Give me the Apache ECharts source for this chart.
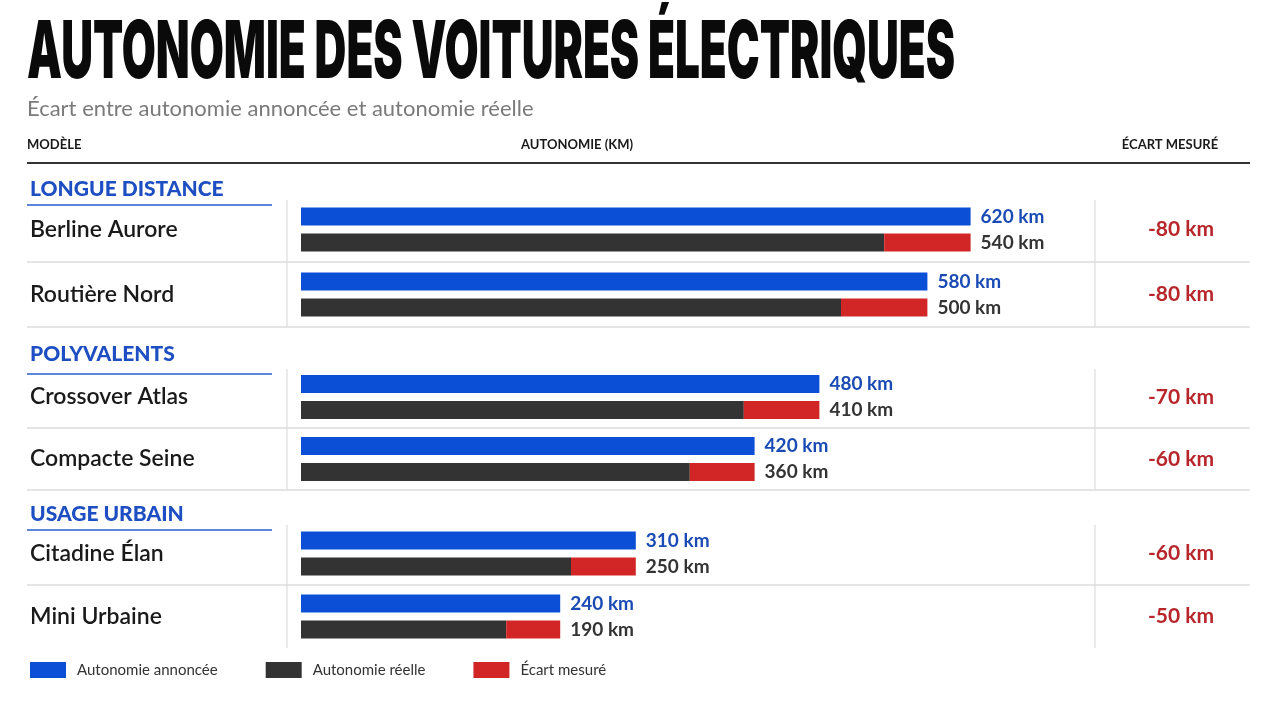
<!DOCTYPE html>
<html>
<head>
<meta charset="utf-8">
<title>Autonomie des voitures électriques</title>
<script src="https://cdn.jsdelivr.net/npm/echarts@6/dist/echarts.min.js"></script>
<style>
  html, body { margin: 0; padding: 0; background: #ffffff; }
  #chart { width: 1280px; height: 702px; }
</style>
</head>
<body>
<div id="chart"></div>
<script>
// données
var groupes = ['LONGUE DISTANCE', 'POLYVALENTS', 'USAGE URBAIN'];
var modeles = [
  ['Berline Aurore', 'Routière Nord'],
  ['Crossover Atlas', 'Compacte Seine'],
  ['Citadine Élan', 'Mini Urbaine']
];
var annoncee = [[620, 580], [480, 420], [310, 240]];
var reelle = [[540, 500], [410, 360], [250, 190]];

var BLEU = '#0b4fd6', NOIR = '#333333', ROUGE = '#d22626';
var FONT = 'Lato, "Noto Sans", sans-serif';

// mise en page des 3 blocs
var gridTops = [197, 366, 522];
var gridHeights = [130, 124, 126];
var headerY = [189, 354, 514];
var gridLeft = 301, gridWidth = 756;

var myChart = echarts.init(document.getElementById('chart'));

// largeur du titre (police grasse compressée)
var titre = 'AUTONOMIE DES VOITURES ÉLECTRIQUES';
var titreFont = '900 80px Inter';
var ctx = document.createElement('canvas').getContext('2d');
ctx.font = titreFont;
var titreScale = 928 / ctx.measureText(titre).width;

var grids = [], xAxes = [], yAxes = [], series = [], graphics = [];

graphics.push({
  type: 'text', x: 27, y: 54, scaleX: titreScale,
  style: { text: titre, font: titreFont, fill: '#0a0a0a', verticalAlign: 'middle' }
});
graphics.push({
  type: 'text', x: 27, y: 109,
  style: { text: 'Écart entre autonomie annoncée et autonomie réelle', font: '22px ' + FONT, fill: '#7a7a7a', verticalAlign: 'middle' }
});
graphics.push({
  type: 'text', x: 27, y: 145,
  style: { text: 'MODÈLE', font: 'bold 13px ' + FONT, fill: '#1a1a1a', verticalAlign: 'middle' }
});
graphics.push({
  type: 'text', x: 577, y: 145,
  style: { text: 'AUTONOMIE (KM)', font: 'bold 13px ' + FONT, fill: '#1a1a1a', verticalAlign: 'middle', align: 'center' }
});
graphics.push({
  type: 'text', x: 1170, y: 145,
  style: { text: 'ÉCART MESURÉ', font: 'bold 13px ' + FONT, fill: '#1a1a1a', verticalAlign: 'middle', align: 'center' }
});
graphics.push({
  type: 'line', shape: { x1: 27, y1: 163, x2: 1250, y2: 163 },
  style: { stroke: '#333', lineWidth: 2 }
});

groupes.forEach(function (nomGroupe, g) {
  var gTop = gridTops[g], h = gridHeights[g];
  var ecarts = annoncee[g].map(function (v, i) { return v - reelle[g][i]; });
  var reelleG = reelle[g];

  grids.push({ left: gridLeft, top: gTop, width: gridWidth, height: h });
  xAxes.push({ type: 'value', gridIndex: g, min: 0, max: 700, show: false });
  yAxes.push({
    type: 'category', gridIndex: g, data: modeles[g], inverse: true,
    axisLine: { show: false }, axisTick: { show: false },
    axisLabel: { align: 'left', margin: 271, color: '#1a1a1a', fontSize: 23, fontWeight: 600, fontFamily: FONT }
  });
  yAxes.push({
    type: 'category', gridIndex: g, data: ecarts, inverse: true, position: 'right',
    axisLine: { show: false }, axisTick: { show: false },
    axisLabel: {
      align: 'center', margin: 124, color: '#b8262b', fontSize: 21, fontWeight: 'bold', fontFamily: FONT,
      formatter: function (v) { return '-' + v + ' km'; }
    }
  });

  series.push({
    name: 'Autonomie annoncée', type: 'bar', xAxisIndex: g, yAxisIndex: g * 2,
    data: annoncee[g], barWidth: 18, barGap: '44%',
    itemStyle: { color: BLEU },
    label: {
      show: true, position: 'right', distance: 10, formatter: '{c} km',
      color: '#1a4bb5', fontSize: 19, fontWeight: 'bold', fontFamily: FONT
    }
  });
  series.push({
    name: 'Autonomie réelle', type: 'bar', xAxisIndex: g, yAxisIndex: g * 2,
    data: reelle[g], barWidth: 18, barGap: '44%', stack: 'reel' + g,
    itemStyle: { color: NOIR }
  });
  series.push({
    name: 'Écart mesuré', type: 'bar', xAxisIndex: g, yAxisIndex: g * 2,
    data: ecarts, barWidth: 18, barGap: '44%', stack: 'reel' + g,
    itemStyle: { color: ROUGE },
    label: {
      show: true, position: 'right', distance: 10,
      formatter: function (p) { return reelleG[p.dataIndex] + ' km'; },
      color: '#333', fontSize: 19, fontWeight: 'bold', fontFamily: FONT
    }
  });

  // en-tête de groupe
  graphics.push({
    type: 'text', x: 30, y: headerY[g],
    style: { text: nomGroupe, font: '900 21px ' + FONT, fill: '#1e4fc2', verticalAlign: 'middle' }
  });
  graphics.push({
    type: 'line', shape: { x1: 27, y1: gTop + 8, x2: 272, y2: gTop + 8 },
    style: { stroke: '#2a5bd0', lineWidth: 1.5 }
  });
  // séparateurs
  var rowH = h / modeles[g].length;
  for (var r = 0; r < modeles[g].length; r++) {
    if (g === groupes.length - 1 && r === modeles[g].length - 1) continue;
    var yl = gTop + (r + 1) * rowH;
    graphics.push({
      type: 'line', shape: { x1: 27, y1: yl, x2: 1250, y2: yl },
      style: { stroke: '#dcdcdc', lineWidth: 1.5 }
    });
  }
  [287, 1095].forEach(function (xv) {
    graphics.push({
      type: 'line', shape: { x1: xv, y1: gTop + 3, x2: xv, y2: gTop + h },
      style: { stroke: '#dcdcdc', lineWidth: 1.2 }
    });
  });
});

var option = {
  backgroundColor: '#ffffff',
  animation: false,
  legend: {
    left: 25, top: 657, itemWidth: 36, itemHeight: 16, itemGap: 48,
    icon: 'rect', selectedMode: false,
    data: ['Autonomie annoncée', 'Autonomie réelle', 'Écart mesuré'],
    textStyle: { color: '#333', fontSize: 15, fontFamily: FONT, padding: [0, 0, 0, 6] }
  },
  grid: grids,
  xAxis: xAxes,
  yAxis: yAxes,
  series: series,
  graphic: graphics
};
myChart.setOption(option);
</script>
</body>
</html>
